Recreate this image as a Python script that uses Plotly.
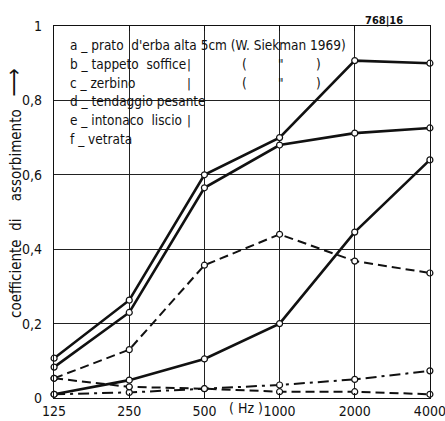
import plotly.graph_objects as go

# Frequencies (Hz) and absorption coefficients
freqs = [125, 250, 500, 1000, 2000, 4000]
freq_labels = ["125", "250", "500", "1000", "2000", "4000"]

prato = [0.107, 0.263, 0.600, 0.700, 0.907, 0.900]      # a
tappeto = [0.083, 0.230, 0.565, 0.680, 0.712, 0.726]    # b
zerbino = [0.010, 0.048, 0.105, 0.200, 0.446, 0.640]    # c
tendaggio = [0.053, 0.130, 0.357, 0.440, 0.368, 0.336]  # d
intonaco = [0.010, 0.015, 0.025, 0.035, 0.050, 0.073]   # e
vetrata = [0.053, 0.030, 0.025, 0.017, 0.017, 0.010]    # f

y_ticks = [0, 0.2, 0.4, 0.6, 0.8, 1]
y_labels = ["0", "0,2", "0,4", "0,6", "0,8", "1"]

FONT = "DejaVu Sans Condensed, DejaVu Sans, sans-serif"
INK = "#111111"
FS = 14

series = [
    ("a", prato, "solid", 2.6),
    ("b", tappeto, "solid", 2.6),
    ("c", zerbino, "solid", 2.6),
    ("d", tendaggio, "9px,5px", 2.0),
    ("e", intonaco, "11px,5px,3px,5px", 2.0),
    ("f", vetrata, "9px,5px", 2.0),
]

fig = go.Figure()
for name, vals, dash, w in series:
    fig.add_trace(go.Scatter(
        x=freqs, y=vals, name=name, mode="lines+markers",
        line=dict(color=INK, width=w, dash=dash),
        marker=dict(size=6, color="white", line=dict(color=INK, width=1.2)),
        cliponaxis=False, showlegend=False,
    ))

# curve letters near the right edge
curve_tags = [("a", 0.927), ("b", 0.753), ("c", 0.640), ("d", 0.366), ("e", 0.094), ("f", 0.040)]
for tag, yv in curve_tags:
    fig.add_annotation(x=3480, y=yv, xref="x", yref="y", text=tag, showarrow=False,
                       yanchor="middle", font=dict(family=FONT, size=15, color=INK))

# key text block in the upper-left corner
def px_x(p):
    return (p - 54) / 376.0

def px_y(p):
    return (398 - p) / 372.0

key_lines = [
    ("a _ prato  d'erba alta 5cm (W. Siekman 1969)", 45),
    ("b _ tappeto  soffice", 64),
    ("c _ zerbino", 83),
    ("d _ tendaggio pesante", 101),
    ("e _ intonaco  liscio", 120),
    ("f _ vetrata", 139),
]
for txt, yp in key_lines:
    fig.add_annotation(x=px_x(68), y=px_y(yp), xref="paper", yref="paper", text=txt,
                       showarrow=False, xanchor="left", yanchor="middle", align="left",
                       font=dict(family=FONT, size=13.5, color=INK))
for yp in (64, 83, 120):
    fig.add_annotation(x=px_x(189), y=px_y(yp), xref="paper", yref="paper", text="|",
                       showarrow=False, xanchor="center", yanchor="middle",
                       font=dict(family=FONT, size=13, color=INK))
for yp in (64, 83):
    for sym, xp in (("(", 244), ("\"", 281), (")", 318)):
        fig.add_annotation(x=px_x(xp), y=px_y(yp), xref="paper", yref="paper", text=sym,
                           showarrow=False, xanchor="center", yanchor="middle",
                           font=dict(family=FONT, size=13.5, color=INK))

# white panels keeping the grid out from behind the key
fig.add_shape(type="rect", xref="paper", yref="paper", x0=0.003, x1=px_x(212), y0=px_y(146),
              y1=0.995, fillcolor="white", line=dict(width=0), layer="between")
fig.add_shape(type="rect", xref="paper", yref="paper", x0=0.003, x1=px_x(362), y0=px_y(56),
              y1=0.995, fillcolor="white", line=dict(width=0), layer="between")

# axis title and unit
fig.add_annotation(x=px_x(13), y=px_y(193), xref="paper", yref="paper",
                   text="coefficiente  di    assorbimento   <span style='font-size:22px'>\u27f6</span>",
                   textangle=-90, showarrow=False, xanchor="center", yanchor="middle",
                   font=dict(family=FONT, size=15, color=INK))
fig.add_annotation(x=px_x(246), y=px_y(408), xref="paper", yref="paper", text="( Hz )",
                   showarrow=False, xanchor="center", yanchor="middle",
                   font=dict(family=FONT, size=FS, color=INK))
fig.add_annotation(x=px_x(384), y=px_y(20), xref="paper", yref="paper", text="<b>768|16</b>",
                   showarrow=False, xanchor="center", yanchor="middle",
                   font=dict(family=FONT, size=11, color=INK))

fig.update_xaxes(
    type="log", range=[2.0965, 3.6025], tickvals=freqs, ticktext=freq_labels,
    showgrid=True, gridcolor="#222222", gridwidth=1,
    showline=True, linecolor=INK, linewidth=1.2, mirror="ticks",
    ticks="inside", ticklen=5, tickcolor=INK, ticklabeloverflow="allow",
    tickfont=dict(family=FONT, size=FS, color=INK), zeroline=False, automargin=False,
)
fig.update_yaxes(
    range=[0, 1], tickvals=y_ticks, ticktext=y_labels,
    showgrid=True, gridcolor="#222222", gridwidth=1,
    showline=True, linecolor=INK, linewidth=1.2, mirror=True,
    ticks="", ticklabelstandoff=8,
    tickfont=dict(family=FONT, size=FS, color=INK), zeroline=False,
    automargin=False,
)
fig.update_layout(
    width=445, height=421, margin=dict(l=54, r=15, t=26, b=23),
    paper_bgcolor="white", plot_bgcolor="white",
)
fig.write_html("out.html")
